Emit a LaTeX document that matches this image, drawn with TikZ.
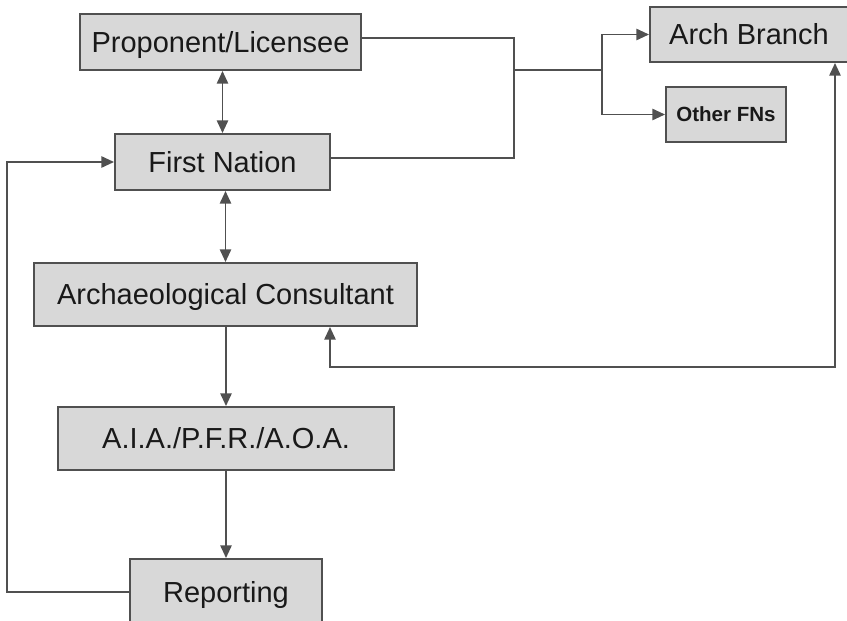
\documentclass[tikz,border=0pt]{standalone}
\usepackage{fontspec}
\setmainfont{Liberation Sans}
\usetikzlibrary{arrows.meta}
\definecolor{boxgray}{HTML}{D8D8D8}
\definecolor{linegray}{HTML}{505050}
\begin{document}
\begin{tikzpicture}[x=0.75pt, y=-0.75pt,
  box/.style={rectangle, draw=linegray, fill=boxgray, line width=1.5pt, inner sep=0pt,
    font=\fontsize{21.75}{24}\selectfont, text=black!90, text height=15.6pt, text depth=0pt},
  smallbox/.style={box, font=\fontsize{15.4}{18}\selectfont\bfseries, text height=11pt},
  link/.style={draw=linegray, line width=1.3pt},
  tip/.style={link, -{Triangle[length=9.5pt,width=8.5pt]}},
  both/.style={link, {Triangle[length=9.5pt,width=8.5pt]}-{Triangle[length=9.5pt,width=8.5pt]}}]
\useasboundingbox (0,0) rectangle (847,621);
\clip (0,0) rectangle (847,621);

\node [box, minimum width=210.75pt, minimum height=42pt] (prop) at (220.5,42) {Proponent/Licensee};
\node [box, minimum width=161.25pt, minimum height=42pt] (fn) at (222.5,162) {First Nation};
\node [box, minimum width=287.25pt, minimum height=47.25pt] (cons) at (225.5,294.5) {Archaeological Consultant};
\node [box, minimum width=252pt, minimum height=47.25pt] (aia) at (226,438.5) {A.I.A./P.F.R./A.O.A.};
\node [box, minimum width=144pt, minimum height=49.5pt] (rep) at (226,592) {Reporting};
\node [box, minimum width=148.5pt, minimum height=41.25pt] (arch) at (749,34.5) {Arch Branch};
\node [smallbox, minimum width=90pt, minimum height=41.25pt] (other) at (726,114.5) {Other FNs};

\coordinate (split) at (514,70);
\coordinate (fork) at (602,70);
\coordinate (back) at (7,400);
\coordinate (low) at (835,367);
\coordinate (mid) at (330,367);

\draw [link] ([yshift=3pt]prop.east) -| (split) |- ([yshift=3pt]fn.east);
\draw [link] (split) -- (fork);
\draw [tip] (fork) |- (arch);
\draw [tip] (fork) |- (other);

\draw [both] (prop.south -| fn.north) -- (fn.north);
\draw [both] (fn.south -| cons.north) -- (cons.north);
\draw [tip] (cons.south -| aia.north) -- (aia.north);
\draw [tip] (aia) -- (rep);

\draw [tip] (rep.west) -| (back) |- (fn.west);
\draw [both] (arch.south -| low) -- (low) -- (mid) -- (mid |- cons.south);
\end{tikzpicture}
\end{document}
